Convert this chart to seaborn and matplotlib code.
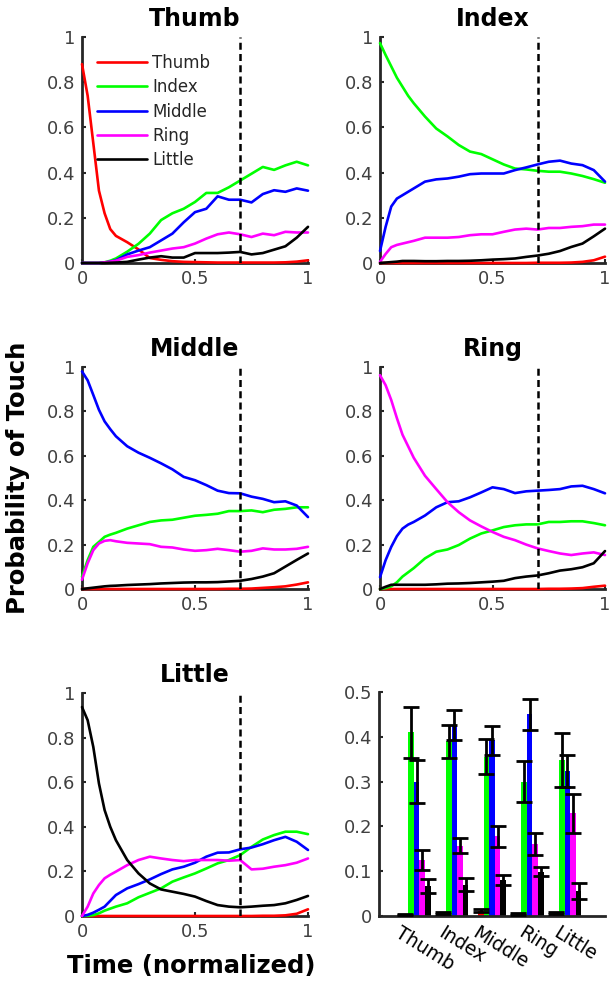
import numpy as np
import pandas as pd
import matplotlib
matplotlib.use("Agg")
import matplotlib.pyplot as plt
import matplotlib.transforms as mtransforms
import seaborn as sns

# ---------------- data ----------------
fingers = ["Thumb", "Index", "Middle", "Ring", "Little"]
colors = ["#ff0000", "#00ff00", "#0000ff", "#ff00ff", "#000000"]

t = [0, 0.025, 0.05, 0.075, 0.1, 0.125, 0.15, 0.2, 0.25, 0.3, 0.35, 0.4,
     0.45, 0.5, 0.55, 0.6, 0.65, 0.7, 0.75, 0.8, 0.85, 0.9, 0.95, 1.0]

# Panel "Thumb"
p1_thumb = [0.88, 0.74, 0.53, 0.32, 0.22, 0.15, 0.12, 0.092, 0.06, 0.022, 0.014, 0.008,
            0.005, 0.004, 0.003, 0.002, 0.002, 0.002, 0.002, 0.002, 0.002, 0.003, 0.006, 0.012]
p1_index = [0, 0, 0, 0, 0.003, 0.01, 0.02, 0.05, 0.085, 0.13, 0.19, 0.22,
            0.24, 0.27, 0.31, 0.31, 0.335, 0.365, 0.395, 0.425, 0.412, 0.432, 0.448, 0.432]
p1_middle = [0, 0, 0, 0, 0.002, 0.006, 0.012, 0.038, 0.055, 0.07, 0.1, 0.13,
             0.18, 0.225, 0.24, 0.295, 0.28, 0.28, 0.268, 0.305, 0.322, 0.315, 0.33, 0.32]
p1_ring = [0, 0, 0, 0, 0.003, 0.006, 0.01, 0.027, 0.035, 0.046, 0.055, 0.064,
           0.07, 0.086, 0.108, 0.127, 0.135, 0.127, 0.115, 0.13, 0.123, 0.138, 0.135, 0.135]
p1_little = [0, 0, 0, 0, 0, 0.001, 0.002, 0.005, 0.015, 0.024, 0.03, 0.024,
             0.024, 0.044, 0.044, 0.044, 0.046, 0.049, 0.038, 0.044, 0.059, 0.074, 0.112, 0.16]

# Panel "Index"
p2_thumb = [0, 0, 0, 0, 0, 0, 0, 0, 0, 0, 0, 0,
            0, 0, 0, 0, 0, 0.001, 0.001, 0.001, 0.002, 0.005, 0.012, 0.028]
p2_index = [0.973, 0.92, 0.87, 0.82, 0.78, 0.74, 0.707, 0.648, 0.595, 0.56, 0.522, 0.493,
            0.482, 0.459, 0.436, 0.418, 0.414, 0.408, 0.404, 0.404, 0.396, 0.385, 0.371, 0.355]
p2_middle = [0.053, 0.16, 0.25, 0.285, 0.30, 0.315, 0.33, 0.36, 0.37, 0.374, 0.382, 0.393,
             0.396, 0.396, 0.396, 0.411, 0.423, 0.436, 0.448, 0.453, 0.44, 0.433, 0.411, 0.36]
p2_ring = [0.005, 0.04, 0.07, 0.08, 0.086, 0.092, 0.098, 0.112, 0.112, 0.112, 0.115, 0.123,
           0.127, 0.127, 0.138, 0.148, 0.152, 0.148, 0.155, 0.155, 0.16, 0.163, 0.17, 0.17]
p2_little = [0, 0.002, 0.004, 0.006, 0.009, 0.009, 0.009, 0.008, 0.008, 0.009, 0.009, 0.01,
             0.012, 0.015, 0.017, 0.02, 0.027, 0.033, 0.041, 0.053, 0.071, 0.086, 0.118, 0.152]

# Panel "Middle"
p3_thumb = [0, 0, 0, 0, 0, 0, 0, 0, 0, 0, 0, 0,
            0, 0, 0, 0, 0.001, 0.001, 0.002, 0.005, 0.008, 0.012, 0.02, 0.03]
p3_index = [0.056, 0.13, 0.19, 0.212, 0.235, 0.245, 0.253, 0.272, 0.287, 0.302, 0.309, 0.312,
            0.321, 0.33, 0.334, 0.339, 0.351, 0.351, 0.354, 0.346, 0.357, 0.361, 0.368, 0.368]
p3_middle = [0.98, 0.94, 0.874, 0.807, 0.755, 0.72, 0.688, 0.643, 0.614, 0.591, 0.566, 0.539,
             0.505, 0.49, 0.468, 0.443, 0.432, 0.431, 0.416, 0.406, 0.391, 0.395, 0.376, 0.324]
p3_ring = [0.042, 0.116, 0.175, 0.205, 0.217, 0.22, 0.215, 0.208, 0.205, 0.202, 0.19, 0.187,
           0.178, 0.172, 0.175, 0.181, 0.175, 0.168, 0.172, 0.183, 0.178, 0.178, 0.181, 0.19]
p3_little = [0, 0.003, 0.006, 0.009, 0.012, 0.014, 0.015, 0.018, 0.02, 0.022, 0.025, 0.027,
             0.029, 0.03, 0.03, 0.031, 0.034, 0.037, 0.045, 0.056, 0.071, 0.101, 0.131, 0.16]

# Panel "Ring"
p4_thumb = [0, 0, 0, 0, 0, 0, 0, 0, 0, 0, 0, 0,
            0, 0, 0, 0, 0, 0, 0.001, 0.001, 0.002, 0.004, 0.01, 0.015]
p4_index = [0, 0.004, 0.012, 0.03, 0.056, 0.075, 0.094, 0.138, 0.168, 0.178, 0.198, 0.227,
            0.25, 0.264, 0.279, 0.287, 0.291, 0.291, 0.302, 0.302, 0.305, 0.305, 0.297, 0.287]
p4_middle = [0.053, 0.13, 0.19, 0.238, 0.272, 0.29, 0.302, 0.331, 0.368, 0.391, 0.395, 0.413,
             0.435, 0.458, 0.45, 0.432, 0.44, 0.443, 0.446, 0.45, 0.462, 0.465, 0.45, 0.431]
p4_ring = [0.963, 0.918, 0.851, 0.77, 0.695, 0.643, 0.591, 0.51, 0.45, 0.391, 0.346, 0.309,
           0.282, 0.257, 0.235, 0.22, 0.2, 0.183, 0.171, 0.16, 0.153, 0.16, 0.165, 0.153]
p4_little = [0, 0.01, 0.019, 0.019, 0.019, 0.019, 0.019, 0.019, 0.021, 0.024, 0.025, 0.027,
             0.03, 0.033, 0.037, 0.049, 0.056, 0.061, 0.071, 0.083, 0.089, 0.098, 0.116, 0.171]

# Panel "Little"
p5_thumb = [0, 0, 0, 0, 0, 0, 0, 0, 0, 0, 0, 0,
            0, 0, 0, 0, 0, 0, 0, 0.001, 0.001, 0.003, 0.01, 0.03]
p5_index = [0, 0.001, 0.004, 0.012, 0.024, 0.033, 0.042, 0.057, 0.084, 0.104, 0.124, 0.154,
            0.173, 0.191, 0.213, 0.236, 0.251, 0.273, 0.31, 0.343, 0.363, 0.378, 0.378, 0.367]
p5_middle = [0, 0.005, 0.015, 0.028, 0.042, 0.068, 0.094, 0.124, 0.143, 0.164, 0.188, 0.209,
             0.221, 0.239, 0.266, 0.284, 0.285, 0.299, 0.307, 0.322, 0.34, 0.355, 0.333, 0.296]
p5_ring = [0, 0.042, 0.101, 0.139, 0.169, 0.185, 0.199, 0.228, 0.251, 0.266, 0.258, 0.251,
           0.246, 0.251, 0.251, 0.251, 0.248, 0.251, 0.209, 0.212, 0.221, 0.228, 0.239, 0.258]
p5_little = [0.937, 0.878, 0.758, 0.594, 0.475, 0.4, 0.34, 0.251, 0.191, 0.146, 0.119, 0.109,
             0.099, 0.087, 0.067, 0.049, 0.042, 0.039, 0.042, 0.046, 0.049, 0.057, 0.072, 0.09]

# Bar panel (mean probability, error)
bar_thumb = [0.003, 0.007, 0.012, 0.005, 0.006]
bar_index = [0.41, 0.39, 0.355, 0.30, 0.348]
bar_middle = [0.30, 0.426, 0.392, 0.45, 0.323]
bar_ring = [0.125, 0.157, 0.178, 0.161, 0.229]
bar_little = [0.067, 0.07, 0.08, 0.099, 0.055]
err_thumb = [0.001, 0.003, 0.004, 0.002, 0.002]
err_index = [0.057, 0.037, 0.039, 0.046, 0.06]
err_middle = [0.048, 0.033, 0.033, 0.034, 0.036]
err_ring = [0.022, 0.017, 0.023, 0.025, 0.043]
err_little = [0.015, 0.014, 0.011, 0.01, 0.018]

event_time = 0.7

# ---------------- style ----------------
sns.set_theme(style="white")
plt.rcParams["font.family"] = ["DejaVu Sans"]
TICK_COLOR = "#404040"
AX_COLOR = "#262626"

fig = plt.figure(figsize=(6.15, 9.85), dpi=100)
W, H = 615.0, 985.0


def axes_px(x0, x1, ytop, ybot):
    return fig.add_axes([x0 / W, 1 - ybot / H, (x1 - x0) / W, (ybot - ytop) / H])


def style_axes(ax):
    for s in ["top", "right"]:
        ax.spines[s].set_visible(False)
    for s in ["left", "bottom"]:
        ax.spines[s].set_color(AX_COLOR)
        ax.spines[s].set_linewidth(2.0)
    ax.tick_params(direction="in", length=3, width=1.5, color=AX_COLOR,
                   labelsize=13, labelcolor=TICK_COLOR, pad=5,
                   left=True, bottom=True)
    ax.set_xlabel("")
    ax.set_ylabel("")


panels = [
    ("Thumb", [p1_thumb, p1_index, p1_middle, p1_ring, p1_little], (82, 308, 37, 263)),
    ("Index", [p2_thumb, p2_index, p2_middle, p2_ring, p2_little], (380, 605, 37, 263)),
    ("Middle", [p3_thumb, p3_index, p3_middle, p3_ring, p3_little], (82, 308, 367, 589)),
    ("Ring", [p4_thumb, p4_index, p4_middle, p4_ring, p4_little], (380, 605, 367, 589)),
    ("Little", [p5_thumb, p5_index, p5_middle, p5_ring, p5_little], (82, 308, 693, 916)),
]

for i, (title, series, box) in enumerate(panels):
    ax = axes_px(*box)
    frames = []
    for name, vals in zip(fingers, series):
        frames.append(pd.DataFrame({"t": t, "p": vals, "finger": name}))
    df = pd.concat(frames, ignore_index=True)
    sns.lineplot(data=df, x="t", y="p", hue="finger", hue_order=fingers,
                 palette=colors, linewidth=1.9, ax=ax, legend=(i == 0),
                 zorder=3, clip_on=False)
    ax.axvline(event_time, color="black", linewidth=1.8,
               linestyle=(0, (2.8, 1.7)), zorder=4)
    ax.set_xlim(0, 1)
    ax.set_ylim(0, 1)
    ax.set_xticks([0, 0.5, 1])
    ax.set_xticklabels(["0", "0.5", "1"])
    ax.set_yticks([0, 0.2, 0.4, 0.6, 0.8, 1])
    ax.set_yticklabels(["0", "0.2", "0.4", "0.6", "0.8", "1"])
    style_axes(ax)
    ax.set_title(title, fontsize=17, fontweight="bold", pad=8, color="black")
    if i == 0:
        handles, labels = ax.get_legend_handles_labels()
        ax.legend(handles, labels, frameon=False, loc="upper left",
                  bbox_to_anchor=(0.066, 0.925), fontsize=12,
                  handlelength=3.0, handletextpad=0.3, labelspacing=0.38,
                  borderaxespad=0, borderpad=0, labelcolor=AX_COLOR)

# ---------------- bar panel ----------------
axb = axes_px(379, 605, 692, 916)
bar_vals = [bar_thumb, bar_index, bar_middle, bar_ring, bar_little]
bar_errs = [err_thumb, err_index, err_middle, err_ring, err_little]
frames = []
for name, vals, errs in zip(fingers, bar_vals, bar_errs):
    frames.append(pd.DataFrame({"group": fingers, "value": vals, "err": errs, "finger": name}))
bdf = pd.concat(frames, ignore_index=True)
sns.barplot(data=bdf, x="group", y="value", hue="finger", order=fingers,
            hue_order=fingers, palette=colors, errorbar=None, width=0.75,
            gap=0, saturation=1, legend=False, ax=axb, zorder=2,
            linewidth=0)
for cont, errs in zip(axb.containers, bar_errs):
    xs = [b.get_x() + b.get_width() / 2 for b in cont]
    ys = [b.get_height() for b in cont]
    axb.errorbar(xs, ys, yerr=errs, fmt="none", ecolor="black",
                 elinewidth=2.0, capsize=5.5, capthick=2.0, zorder=5)
axb.set_xlim(-1, 5)
axb.set_ylim(0, 0.5)
axb.set_yticks([0, 0.1, 0.2, 0.3, 0.4, 0.5])
axb.set_yticklabels(["0", "0.1", "0.2", "0.3", "0.4", "0.5"])
style_axes(axb)
axb.tick_params(axis="x", length=0)
offset = mtransforms.ScaledTranslation(8 / 100, 0, fig.dpi_scale_trans)
for lab in axb.get_xticklabels():
    lab.set_rotation(-32)
    lab.set_ha("center")
    lab.set_va("top")
    lab.set_color("black")
    lab.set_fontsize(13.5)
    lab.set_transform(lab.get_transform() + offset)

# ---------------- shared labels ----------------
fig.text(18 / W, 1 - 478 / H, "Probability of Touch", rotation=90,
         ha="center", va="center", fontsize=17.5, fontweight="bold", color="black")
fig.text(191 / W, 1 - 966 / H, "Time (normalized)", ha="center", va="center",
         fontsize=17.5, fontweight="bold", color="black")

fig.savefig("out.png", dpi=100)
